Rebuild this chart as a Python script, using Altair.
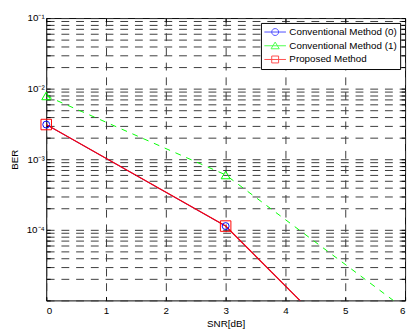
import altair as alt
import pandas as pd

# ---- data ----
snr = [0, 3, 6]
conv0 = [3.1e-3, 1.13e-4, 3.2e-7]
conv1 = [7.9e-3, 6.0e-4, 7.5e-6]
proposed = [3.1e-3, 1.13e-4, 3.2e-7]
methods = ["Conventional Method (0)", "Conventional Method (1)", "Proposed Method"]
colors = ["#0000ff", "#00ff00", "#ff0000"]

x_ticks = [0, 1, 2, 3, 4, 5, 6]
mantissas = [1, 2, 3, 4, 5, 6, 7, 8, 9]
exponents = [-5, -4, -3, -2]
y_ticks = [m * 10.0 ** e for e in exponents for m in mantissas] + [0.1]
decade_values = [1e-1, 1e-2, 1e-3, 1e-4]
decade_labels = ["10⁻¹", "10⁻²", "10⁻³", "10⁻⁴"]

rows = []
for name, vals in zip(methods, [conv0, conv1, proposed]):
    for s, b in zip(snr, vals):
        rows.append({"snr": s, "ber": b, "method": name})
df = pd.DataFrame(rows)

W, H = 366, 288
FONT = "Liberation Sans"
label_expr = " : ".join(
    f"abs(datum.value - {v}) < {v * 1e-6} ? '{l}'" for v, l in zip(decade_values, decade_labels)
) + " : ''"

xs = alt.Scale(domain=[0, 6], nice=False, zero=False)
ys = alt.Scale(type="log", domain=[1e-5, 1e-1], nice=False)
cs = alt.Scale(domain=methods, range=colors)

grid_col = "#3a3a3a"
dash = [8, 7]

# legend symbol paths: line + marker
leg_paths = [
    "M-1,0H1M0.32,0A0.32,0.32 0 1,1 -0.32,0A0.32,0.32 0 1,1 0.32,0",
    "M-1,0H1M0,-0.34L0.38,0.28L-0.38,0.28Z",
    "M-1,0H1M-0.32,-0.32H0.32V0.32H-0.32Z",
]

leg = alt.Legend(
    title=None, orient="top-right", offset=5, padding=3,
    strokeColor="black", fillColor="white",
    labelFont=FONT, labelFontSize=10, labelColor="black", labelOffset=3,
    symbolSize=484, symbolStrokeWidth=1, clipHeight=12.5, rowPadding=1,
)

# main layer: blue and green lines with labelled axes and grid
lines = alt.Chart(df).transform_filter(alt.datum.method != methods[2]).mark_line(clip=True, strokeWidth=1).encode(
    x=alt.X("snr:Q", scale=xs, axis=alt.Axis(
        orient="bottom", values=x_ticks, title="SNR[dB]", grid=True,
        gridDash=dash, gridColor=grid_col, ticks=False, tickSize=0,
        domain=False, labelPadding=5, titlePadding=4,
        labelFont=FONT, labelFontSize=10, labelColor="black",
        titleFont=FONT, titleFontSize=10, titleFontWeight="normal", titleColor="black")),
    y=alt.Y("ber:Q", scale=ys, axis=alt.Axis(
        orient="left", values=y_ticks, labelExpr=label_expr, title="BER", grid=True,
        gridDash=dash, gridColor=grid_col, ticks=False, tickSize=0,
        domain=False, labelPadding=2, titlePadding=7, labelBaseline="middle",
        labelFont=FONT, labelFontSize=10, labelColor="black",
        titleFont=FONT, titleFontSize=10, titleFontWeight="normal", titleColor="black")),
    color=alt.Color("method:N", scale=cs, legend=None),
    strokeDash=alt.StrokeDash("method:N", scale=alt.Scale(domain=methods, range=[[1, 0], [6, 6], [1, 0]]), legend=None),
    order=alt.Order("snr:Q"),
)

# red line drawn on top of the blue one
red_line = alt.Chart(df).transform_filter(alt.datum.method == methods[2]).mark_line(
    clip=True, strokeWidth=1.2, color=colors[2]
).encode(
    x=alt.X("snr:Q", scale=xs, axis=None),
    y=alt.Y("ber:Q", scale=ys, axis=None),
    order=alt.Order("snr:Q"),
)

# markers, plus inward ticks at bottom and left
points = alt.Chart(df).transform_filter(alt.datum.ber >= 1e-5).mark_point(filled=False, strokeWidth=1, opacity=1).encode(
    x=alt.X("snr:Q", scale=xs, axis=alt.Axis(
        orient="top", offset=-H, values=x_ticks, labels=False, grid=False,
        domain=False, title=None, tickSize=4, tickColor="black")),
    y=alt.Y("ber:Q", scale=ys, axis=alt.Axis(
        orient="right", offset=-W, values=y_ticks, labels=False, grid=False,
        domain=False, title=None, tickSize=4, tickColor="black")),
    color=alt.Color("method:N", scale=cs, legend=None),
    shape=alt.Shape("method:N", scale=alt.Scale(domain=methods, range=["circle", "triangle-up", "square"]), legend=None),
    size=alt.Size("method:N", scale=alt.Scale(domain=methods, range=[50, 115, 150]), legend=None),
)

# legend-only layer, plus inward ticks at top and right
legend_layer = alt.Chart(df).transform_filter(alt.datum.snr > 100).mark_point(filled=False, strokeWidth=1, size=484).encode(
    x=alt.X("snr:Q", scale=xs, axis=alt.Axis(
        orient="bottom", offset=-H, values=x_ticks, labels=False, grid=False,
        domain=False, title=None, tickSize=4, tickColor="black")),
    y=alt.Y("ber:Q", scale=ys, axis=alt.Axis(
        orient="left", offset=-W, values=y_ticks, labels=False, grid=False,
        domain=False, title=None, tickSize=4, tickColor="black")),
    color=alt.Color("method:N", scale=cs, legend=leg),
    shape=alt.Shape("method:N", scale=alt.Scale(domain=methods, range=leg_paths), legend=leg),
)

chart = alt.layer(lines, red_line, points, legend_layer).resolve_axis(
    x="independent", y="independent"
).resolve_scale(
    color="independent", shape="independent", size="independent", strokeDash="independent"
).resolve_legend(
    color="independent", shape="independent"
).properties(
    width=W, height=H,
    autosize=alt.AutoSizeParams(type="none"),
    padding={"left": 39, "top": 7, "right": 3, "bottom": 31},
    background="white",
).configure_view(stroke="black", strokeWidth=1)

chart.save("out.html", embed_options={"renderer": "svg", "actions": False})
